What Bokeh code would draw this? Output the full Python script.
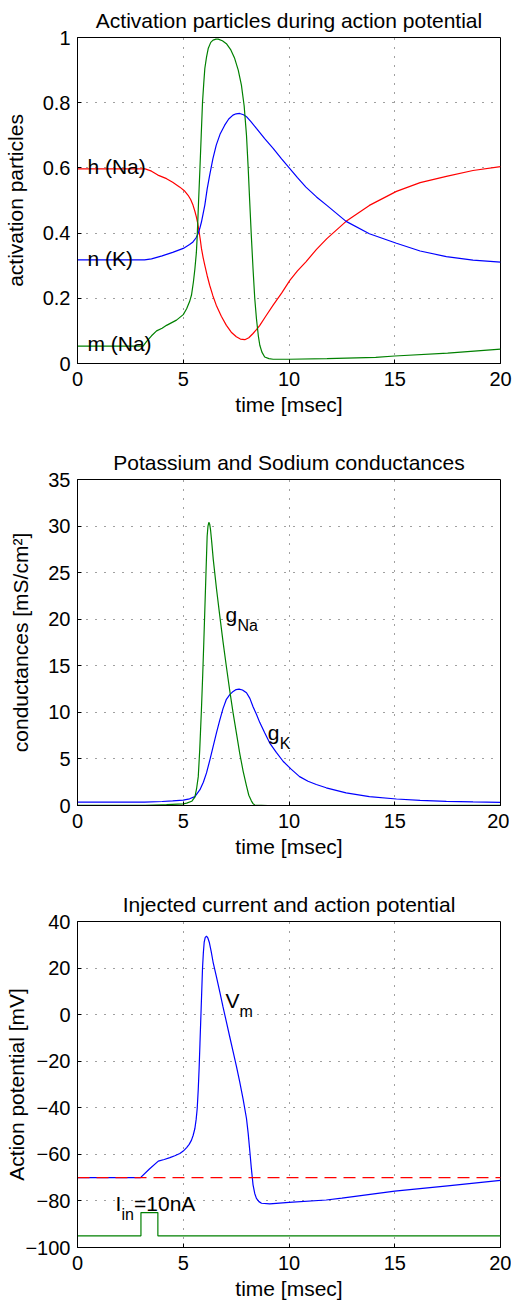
from bokeh.plotting import figure
from bokeh.layouts import column
from bokeh.models import Range1d, FixedTicker
from bokeh.core.properties import value
from bokeh.embed import file_html
from bokeh.resources import INLINE

FONT = "Liberation Sans"

# ---------------- data ----------------
# Panel 1: activation particles
t_m = [0, 3.1, 3.27, 3.5, 3.74, 4.0, 4.21, 4.68, 5.0, 5.16, 5.3, 5.39, 5.48, 5.55, 5.62,
       5.66, 5.72, 5.79, 5.85, 5.91, 5.97, 6.02, 6.1, 6.18, 6.3, 6.41, 6.55, 6.65, 6.85,
       7.04, 7.25, 7.43, 7.6, 7.75, 7.88, 7.99, 8.07, 8.14, 8.22, 8.30, 8.38, 8.46, 8.55,
       8.62, 8.72, 8.85, 9.05, 9.25, 10, 11.8, 14.1, 15, 17.5, 20]
m_vals = [0.053, 0.053, 0.068, 0.085, 0.100, 0.108, 0.117, 0.133, 0.150, 0.168, 0.190,
          0.210, 0.250, 0.290, 0.340, 0.390, 0.490, 0.600, 0.700, 0.800, 0.860, 0.905,
          0.940, 0.966, 0.985, 0.992, 0.995, 0.995, 0.990, 0.981, 0.962, 0.936, 0.900,
          0.854, 0.790, 0.700, 0.600, 0.500, 0.390, 0.290, 0.200, 0.138, 0.085, 0.056,
          0.035, 0.020, 0.015, 0.013, 0.013, 0.015, 0.019, 0.023, 0.032, 0.044]

t_h = [0, 3.2, 3.5, 3.8, 4.21, 4.5, 4.84, 5.05, 5.23, 5.35, 5.46, 5.55, 5.62, 5.69, 5.75,
       5.81, 5.86, 5.94, 6.02, 6.13, 6.25, 6.4, 6.56, 6.8, 7.04, 7.27, 7.51, 7.7, 7.91,
       8.1, 8.30, 8.46, 8.62, 8.9, 9.25, 9.65, 10.04, 10.4, 10.8, 11.3, 11.79, 12.7,
       13.8, 15.08, 16.2, 17.44, 18.7, 20]
h_vals = [0.597, 0.597, 0.590, 0.578, 0.567, 0.556, 0.541, 0.530, 0.516, 0.503, 0.486,
          0.467, 0.450, 0.428, 0.404, 0.378, 0.353, 0.325, 0.301, 0.270, 0.240, 0.208,
          0.179, 0.145, 0.117, 0.096, 0.082, 0.075, 0.073, 0.079, 0.092, 0.104, 0.117,
          0.145, 0.179, 0.216, 0.255, 0.284, 0.312, 0.350, 0.383, 0.436, 0.485, 0.528,
          0.555, 0.574, 0.592, 0.604]

t_n = [0, 3.17, 3.5, 4.0, 4.5, 5.0, 5.3, 5.46, 5.6, 5.70, 5.78, 5.86, 5.94, 6.02, 6.13,
       6.25, 6.4, 6.56, 6.75, 6.96, 7.15, 7.35, 7.5, 7.67, 7.85, 7.99, 8.2, 8.46, 8.85,
       9.25, 9.65, 10.04, 10.4, 10.8, 11.3, 11.79, 12.7, 13.8, 15.08, 16.2, 17.44, 18.7, 20]
n_vals = [0.318, 0.318, 0.321, 0.330, 0.341, 0.353, 0.365, 0.373, 0.385, 0.398, 0.414,
          0.434, 0.460, 0.486, 0.535, 0.578, 0.628, 0.670, 0.705, 0.731, 0.750, 0.762,
          0.766, 0.767, 0.763, 0.757, 0.742, 0.721, 0.690, 0.660, 0.628, 0.598, 0.570,
          0.541, 0.511, 0.485, 0.436, 0.398, 0.369, 0.345, 0.328, 0.317, 0.311]

# Panel 2: conductances
t_gna = [0, 3.2, 4.0, 4.21, 5.0, 5.16, 5.4, 5.55, 5.63, 5.71, 5.78, 5.86, 5.92, 5.97,
         6.02, 6.07, 6.13, 6.17, 6.21, 6.25, 6.29, 6.35, 6.42, 6.57, 6.73, 6.88, 7.04,
         7.2, 7.36, 7.52, 7.67, 7.83, 7.99, 8.1, 8.22, 8.3, 8.38, 9, 20]
gna_vals = [0.01, 0.01, 0.08, 0.10, 0.18, 0.25, 0.45, 0.9, 1.8, 3.1, 6.0, 10.3, 14.0,
            17.4, 21.0, 24.6, 28.9, 30.0, 30.4, 30.2, 29.6, 28.2, 26.4, 23.3, 20.3, 17.6,
            14.9, 12.3, 9.9, 7.7, 5.6, 3.7, 2.1, 1.1, 0.5, 0.2, 0.05, 0.0, 0.01]

t_gk = [0, 3.17, 4.0, 4.5, 5.0, 5.3, 5.55, 5.79, 5.95, 6.1, 6.26, 6.42, 6.57, 6.73, 6.88,
        7.04, 7.2, 7.36, 7.5, 7.64, 7.8, 7.99, 8.15, 8.3, 8.46, 8.62, 8.85, 9.09, 9.4,
        9.72, 10.1, 10.5, 10.9, 11.29, 11.76, 12.7, 13.8, 15.08, 16.2, 17.44, 18.7, 20]
gk_vals = [0.37, 0.37, 0.43, 0.50, 0.58, 0.72, 0.95, 1.7, 2.5, 3.5, 4.9, 6.4, 7.8, 9.2,
           10.4, 11.4, 11.9, 12.25, 12.45, 12.5, 12.4, 12.1, 11.5, 10.6, 9.8, 8.9, 7.8,
           6.7, 5.7, 4.75, 3.9, 3.1, 2.6, 2.25, 1.9, 1.35, 0.95, 0.7, 0.55, 0.45, 0.38, 0.34]

# Panel 3: membrane potential, rest level and injected current
t_v = [0, 2.98, 3.4, 3.82, 4.1, 4.37, 4.6, 4.84, 5.0, 5.16, 5.28, 5.39, 5.47, 5.55, 5.61,
       5.66, 5.71, 5.75, 5.79, 5.83, 5.87, 5.91, 5.95, 5.99, 6.04, 6.1, 6.16, 6.23, 6.32,
       6.41, 6.57, 6.73, 6.88, 7.04, 7.2, 7.36, 7.52, 7.67, 7.83, 7.99, 8.07, 8.15, 8.22,
       8.30, 8.38, 8.46, 8.58, 8.7, 9.09, 10.0, 11.76, 12.5, 15, 17.5, 20]
v_vals = [-70, -70, -66.3, -62.9, -62.2, -61.4, -60.6, -59.6, -58.6, -57.1, -55.7, -53.9,
          -51.8, -48.9, -45.0, -40.3, -32.0, -23.1, -12.5, -1.7, 9.0, 19.7, 26.5, 31.1,
          33.2, 33.7, 33.0, 31.1, 27.2, 22.6, 16.2, 9.7, 3.3, -3.1, -9.6, -16.0, -22.4,
          -28.9, -36.3, -44.6, -51.0, -58.9, -66.0, -73.1, -76.8, -78.9, -80.3, -81.0,
          -81.3, -80.6, -79.6, -78.8, -75.8, -73.5, -71.2]

t_rest = [0, 20]
rest_vals = [-70, -70]

t_iin = [0, 3.0, 3.0, 3.8, 3.8, 20]
iin_vals = [-95, -95, -85, -85, -95, -95]

# tick values / labels
x_ticks = [0, 5, 10, 15, 20]
y1_ticks = [0, 0.2, 0.4, 0.6, 0.8, 1]
y1_labels = ["0", "0.2", "0.4", "0.6", "0.8", "1"]
y2_ticks = [0, 5, 10, 15, 20, 25, 30, 35]
y2_labels = ["0", "5", "10", "15", "20", "25", "30", "35"]
y3_ticks = [-100, -80, -60, -40, -20, 0, 20, 40]
y3_labels = ["\u2212100", "\u221280", "\u221260", "\u221240", "\u221220", "0", "20", "40"]

titles = ["Activation particles during action potential",
          "Potassium and Sodium conductances",
          "Injected current and action potential"]
xlabel = "time [msec]"
ylabels = ["activation particles", "conductances [mS/cm\u00b2]", "Action potential [mV]"]

RED, BLUE, GREEN = "#ff0000", "#0000ff", "#008000"


def make_fig(title, ylabel, yr, yticks, ylabels_, bottom, ylab_standoff):
    p = figure(frame_width=423, frame_height=326,
               x_range=Range1d(0, 20), y_range=Range1d(*yr),
               min_border_left=73, min_border_right=13, min_border_top=35,
               min_border_bottom=bottom,
               output_backend="svg", toolbar_location=None)
    p.title.text = title
    p.title.text_font = FONT
    p.title.text_font_size = "21px"
    p.title.text_font_style = "normal"
    p.title.text_color = "black"
    p.title.align = "center"
    p.title.standoff = 12
    p.background_fill_color = "white"
    p.border_fill_color = "white"
    p.outline_line_color = "black"
    p.outline_line_width = 1
    p.outline_line_alpha = 1

    p.xaxis.ticker = FixedTicker(ticks=x_ticks)
    p.yaxis.ticker = FixedTicker(ticks=yticks)
    p.yaxis.major_label_overrides = {t: l for t, l in zip(yticks, ylabels_)}
    p.xaxis.axis_label = xlabel
    p.yaxis.axis_label = ylabel
    for ax in (p.xaxis, p.yaxis):
        ax.axis_label_text_font = FONT
        ax.axis_label_text_font_size = "21px"
        ax.axis_label_text_font_style = "normal"
        ax.axis_label_text_color = "black"
        ax.major_label_text_font = FONT
        ax.major_label_text_font_size = "20px"
        ax.major_label_text_color = "black"
        ax.axis_line_color = "black"
        ax.major_tick_line_color = "black"
        ax.major_tick_in = 4
        ax.major_tick_out = 0
        ax.minor_tick_line_color = None
    p.xaxis.major_label_standoff = 8
    p.xaxis.axis_label_standoff = 4
    p.yaxis.major_label_standoff = 7
    p.yaxis.axis_label_standoff = ylab_standoff

    for g in (p.xgrid, p.ygrid):
        g.grid_line_color = "black"
        g.grid_line_alpha = 0.75
        g.grid_line_dash = "1 8"
        g.grid_line_width = 1
    return p


def label(p, x, y, txt, size="21px", dx=0, dy=0):
    p.text(x=[x], y=[y], text=[txt], text_font=value(FONT), text_font_size=value(size),
           text_baseline="alphabetic", text_align="left", text_color="black",
           x_offset=dx, y_offset=dy)


# ---------------- panel 1 ----------------
p1 = make_fig(titles[0], ylabels[0], (0, 1), y1_ticks, y1_labels, 79, 13)
p1.line(t_h, h_vals, line_color=RED, line_width=1.2)
p1.line(t_n, n_vals, line_color=BLUE, line_width=1.2)
p1.line(t_m, m_vals, line_color=GREEN, line_width=1.2)
label(p1, 0.47, 0.604, "h (Na)")
label(p1, 0.47, 0.323, "n (K)")
label(p1, 0.47, 0.060, "m (Na)")

# ---------------- panel 2 ----------------
p2 = make_fig(titles[1], ylabels[1], (0, 35), y2_ticks, y2_labels, 79, 13)
p2.line(t_gk, gk_vals, line_color=BLUE, line_width=1.2)
p2.line(t_gna, gna_vals, line_color=GREEN, line_width=1.2)
label(p2, 7.0, 20.5, "g")
label(p2, 7.0, 20.5, "Na", size="16px", dx=12, dy=11)
label(p2, 9.0, 7.8, "g")
label(p2, 9.0, 7.8, "K", size="16px", dx=12, dy=11)

# ---------------- panel 3 ----------------
p3 = make_fig(titles[2], ylabels[2], (-100, 40), y3_ticks, y3_labels, 55, -6)
p3.line(t_v, v_vals, line_color=BLUE, line_width=1.2)
p3.line(t_rest, rest_vals, line_color=RED, line_width=1.2, line_dash="12 7")
p3.line(t_iin, iin_vals, line_color=GREEN, line_width=1.2)
label(p3, 7.0, 6.1, "V")
label(p3, 7.0, 6.1, "m", size="16px", dx=14, dy=11)
label(p3, 1.8, -81, "I")
label(p3, 1.8, -81, "in", size="16px", dx=6, dy=11)
label(p3, 1.8, -81, "=10nA", dx=18.5)

layout = column(p1, p2, p3, spacing=0)
open("out.html", "w").write(file_html(layout, INLINE))
